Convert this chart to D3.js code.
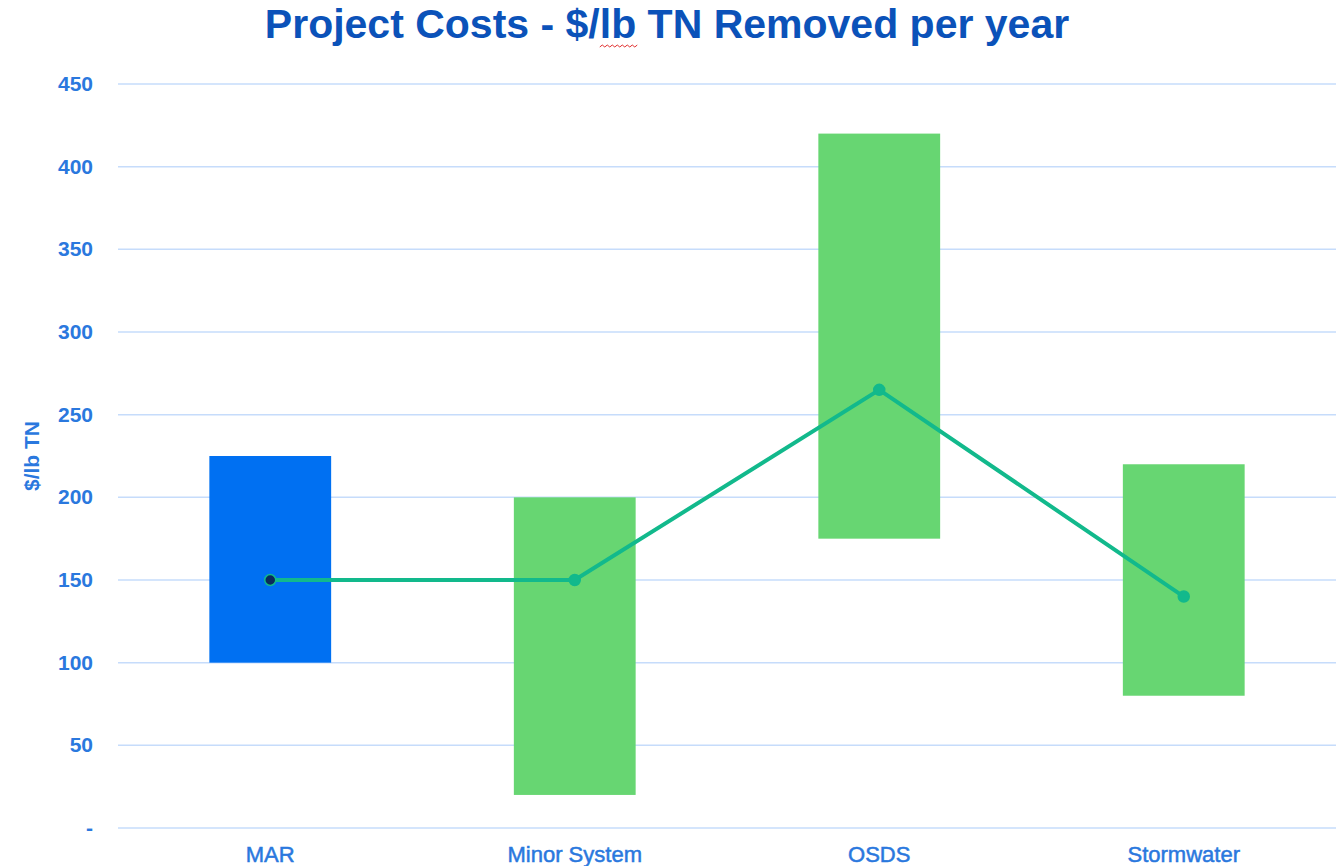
<!DOCTYPE html>
<html>
<head>
<meta charset="utf-8">
<script src="https://cdn.jsdelivr.net/npm/d3@7"></script>
<style>
  body { margin: 0; background: #fff; }
</style>
</head>
<body>
<script>
var w = 1342;
var h = 866;

// data
var categories = ["MAR", "Minor System", "OSDS", "Stormwater"];
var lowValues = [100, 20, 175, 80];
var highValues = [225, 200, 420, 220];
var midValues = [150, 150, 265, 140];
var barColors = ["#0070f2", "#67d672", "#67d672", "#67d672"];
var yTicks = [0, 50, 100, 150, 200, 250, 300, 350, 400, 450];

var plotLeft = 118, plotRight = 1336, plotTop = 84, plotBottom = 828;
var font = "Liberation Sans, Arial, sans-serif";

var svg = d3.select("body")
    .append("svg")
    .attr("width", w)
    .attr("height", h);

var x = d3.scaleBand()
    .domain(categories)
    .range([plotLeft, plotRight])
    .padding(0);

var y = d3.scaleLinear()
    .domain([0, 450])
    .range([plotBottom, plotTop]);

var barW = x.bandwidth() * 0.4;

//---grid-----
svg.append("g")
    .selectAll("line")
    .data(yTicks)
    .enter()
    .append("line")
    .attr("x1", plotLeft)
    .attr("x2", plotRight)
    .attr("y1", function (d) { return y(d); })
    .attr("y2", function (d) { return y(d); })
    .attr("stroke", "#c6dcfb")
    .attr("stroke-width", 1.5);

//---y labels-----
svg.append("g")
    .selectAll("text")
    .data(yTicks)
    .enter()
    .append("text")
    .text(function (d) { return d === 0 ? "-" : d; })
    .attr("x", 93)
    .attr("y", function (d) { return y(d) + 7; })
    .attr("text-anchor", "end")
    .attr("font-family", font)
    .attr("font-size", 21)
    .attr("font-weight", "bold")
    .attr("fill", "#2a78de");

//---bars-----
svg.append("g")
    .selectAll("rect")
    .data(categories)
    .enter()
    .append("rect")
    .attr("x", function (d) { return x(d) + x.bandwidth() / 2 - barW / 2; })
    .attr("y", function (d, i) { return y(highValues[i]); })
    .attr("width", barW)
    .attr("height", function (d, i) { return y(lowValues[i]) - y(highValues[i]); })
    .attr("fill", function (d, i) { return barColors[i]; });

//---line-----
var line = d3.line()
    .x(function (d, i) { return x(categories[i]) + x.bandwidth() / 2; })
    .y(function (d) { return y(d); });

svg.append("path")
    .datum(midValues)
    .attr("d", line)
    .attr("fill", "none")
    .attr("stroke", "#12b98c")
    .attr("stroke-width", 4);

svg.append("g")
    .selectAll("circle")
    .data(midValues)
    .enter()
    .append("circle")
    .attr("cx", function (d, i) { return x(categories[i]) + x.bandwidth() / 2; })
    .attr("cy", function (d) { return y(d); })
    .attr("r", 5.5)
    .attr("fill", function (d, i) { return i === 0 ? "#0a2a5c" : "#12b98c"; })
    .attr("stroke", "#12b98c")
    .attr("stroke-width", 1.5);

//---x labels-----
svg.append("g")
    .selectAll("text")
    .data(categories)
    .enter()
    .append("text")
    .text(function (d) { return d; })
    .attr("x", function (d) { return x(d) + x.bandwidth() / 2; })
    .attr("y", 862)
    .attr("text-anchor", "middle")
    .attr("font-family", font)
    .attr("font-size", 22)
    .attr("fill", "#2a78de")
    .attr("stroke", "#2a78de")
    .attr("stroke-width", 0.5);

//---y title-----
svg.append("text")
    .text("$/lb TN")
    .attr("transform", "translate(39," + y(225) + ") rotate(-90)")
    .attr("text-anchor", "middle")
    .attr("font-family", font)
    .attr("font-size", 21)
    .attr("font-weight", "bold")
    .attr("fill", "#2a78de");

//---title-----
var title = svg.append("text")
    .attr("x", 667)
    .attr("y", 38)
    .attr("text-anchor", "middle")
    .attr("font-family", font)
    .attr("font-size", 41)
    .attr("font-weight", "bold")
    .attr("fill", "#0b52b9");
title.append("tspan").text("Project Costs - $/");
title.append("tspan").attr("id", "lb").text("lb");
title.append("tspan").text(" TN Removed per year");

// red squiggle under "lb"
var lb = document.getElementById("lb");
var start = lb.getStartPositionOfChar(0);
var end = lb.getEndPositionOfChar(1);
var sq = d3.path();
var sy = 47;
sq.moveTo(start.x, sy);
for (var sx = start.x, k = 0; sx < end.x; sx += 2.5, k++) {
    sq.lineTo(sx + 2.5, k % 2 === 0 ? sy - 2 : sy);
}
svg.append("path")
    .attr("d", sq.toString())
    .attr("fill", "none")
    .attr("stroke", "#e03030")
    .attr("stroke-width", 1);
</script>
</body>
</html>
